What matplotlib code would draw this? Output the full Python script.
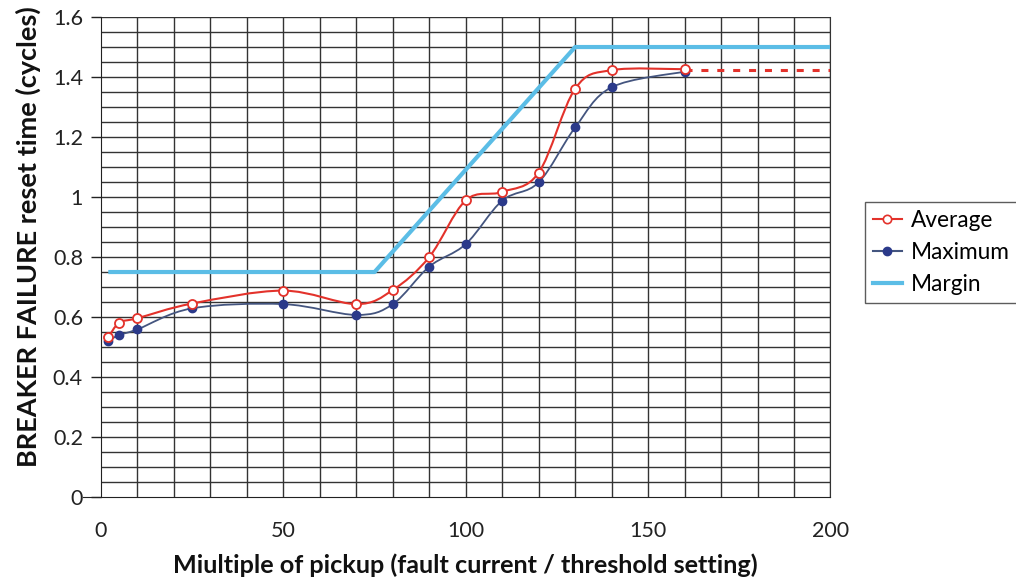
import numpy as np
import matplotlib
matplotlib.use("Agg")
import matplotlib.pyplot as plt
from matplotlib.path import Path
from matplotlib.patches import PathPatch
from matplotlib.lines import Line2D

plt.rcParams['font.family'] = ['Lato', 'DejaVu Sans']

# measured points (multiple of pickup)
avg_x = [2, 5, 10, 25, 50, 70, 80, 90, 100, 110, 120, 130, 140, 160]
avg_y = [0.532, 0.581, 0.596, 0.645, 0.688, 0.643, 0.690, 0.800, 0.989, 1.017, 1.081, 1.361, 1.423, 1.426]

max_x = [2, 5, 10, 25, 50, 70, 80, 90, 100, 110, 120, 130, 140, 160]
max_y = [0.521, 0.540, 0.559, 0.629, 0.643, 0.607, 0.643, 0.768, 0.843, 0.988, 1.049, 1.232, 1.366, 1.418]

# extrapolated average beyond last test point
ext_x = [160, 200]
ext_y = [1.423, 1.423]

margin_x = [2, 75, 130, 200]
margin_y = [0.75, 0.75, 1.5, 1.5]

x_ticks = [0, 50, 100, 150, 200]
y_ticks = [0, 0.2, 0.4, 0.6, 0.8, 1.0, 1.2, 1.4, 1.6]
y_tick_labels = ['0', '0.2', '0.4', '0.6', '0.8', '1', '1.2', '1.4', '1.6']

RED = '#e3322b'
NAVY = '#2b3a8a'
SLATE = '#44557f'
SKY = '#5bbde6'


def smooth_path(xs, ys):
    # Catmull-Rom style bezier through the points (like a spreadsheet "smoothed line")
    pts = np.column_stack([xs, ys]).astype(float)
    verts = [pts[0]]
    codes = [Path.MOVETO]
    n = len(pts)
    for i in range(n - 1):
        p0 = pts[i - 1] if i > 0 else pts[i]
        p1 = pts[i]
        p2 = pts[i + 1]
        p3 = pts[i + 2] if i + 2 < n else pts[i + 1]
        verts += [p1 + (p2 - p0) / 6.0, p2 - (p3 - p1) / 6.0, p2]
        codes += [Path.CURVE4] * 3
    return Path(verts, codes)


fig = plt.figure(figsize=(10.16, 5.85), dpi=100)
ax = fig.add_axes([0.0994, 0.1504, 0.7180, 0.8205])

ax.set_xlim(0, 200)
ax.set_ylim(0, 1.6)

# grid
for gx in np.arange(10, 201, 10):
    ax.axvline(gx, color='#333333', lw=1.0, zorder=1)
for gy in np.arange(0.05, 1.61, 0.05):
    ax.axhline(gy, color='#333333', lw=1.0, zorder=1)

ax.plot(margin_x, margin_y, color=SKY, lw=3, zorder=3, solid_capstyle='butt')

ax.add_patch(PathPatch(smooth_path(max_x, max_y), fill=False, edgecolor=SLATE, lw=1.3, zorder=4))
ax.plot(max_x, max_y, ls='none', marker='o', ms=6, mfc=NAVY, mec=NAVY, zorder=5)

ax.add_patch(PathPatch(smooth_path(avg_x, avg_y), fill=False, edgecolor=RED, lw=1.5, zorder=6))
ax.plot(ext_x, ext_y, color=RED, lw=2.2, dashes=(2.3, 2.9), zorder=6)
ax.plot(avg_x, avg_y, ls='none', marker='o', ms=6.5, mfc='white', mec=RED, mew=1.3, zorder=7)

ax.spines['top'].set_visible(False)
ax.spines['right'].set_color('#333333')
ax.spines['left'].set_color('#222222')
ax.spines['bottom'].set_color('#222222')
ax.spines['bottom'].set_bounds(-5, 200)
ax.spines['bottom'].set_clip_on(False)

ax.set_xticks(x_ticks)
ax.set_yticks(y_ticks)
ax.set_yticklabels(y_tick_labels)
ax.tick_params(axis='x', length=0, pad=17, labelsize=15.5, colors='#222222')
ax.tick_params(axis='y', length=7, width=1, pad=6, labelsize=15.5, colors='#222222')

ax.set_xlabel('Miultiple of pickup (fault current / threshold setting)',
              fontsize=18.2, fontweight='bold', labelpad=9, color='#111111')
ax.set_ylabel('BREAKER FAILURE reset time (cycles)',
              fontsize=19.5, fontweight='bold', color='#111111')
ax.yaxis.set_label_coords(-0.082, 0.543)

handles = [
    Line2D([], [], color=RED, lw=1.5, marker='o', ms=6, mfc='white', mec=RED, mew=1.2),
    Line2D([], [], color=SLATE, lw=1.5, marker='o', ms=6, mfc=NAVY, mec=NAVY),
    Line2D([], [], color=SKY, lw=3),
]
leg = fig.legend(handles, ['Average', 'Maximum', 'Margin'],
                 loc='upper left', bbox_to_anchor=(0.851, 0.655),
                 fontsize=16.3, frameon=True, fancybox=False, edgecolor='#333333',
                 handlelength=1.3, handletextpad=0.4, labelspacing=0.5,
                 borderpad=0.35, borderaxespad=0)
leg.get_frame().set_linewidth(1.0)

fig.savefig('out.png', dpi=100)
